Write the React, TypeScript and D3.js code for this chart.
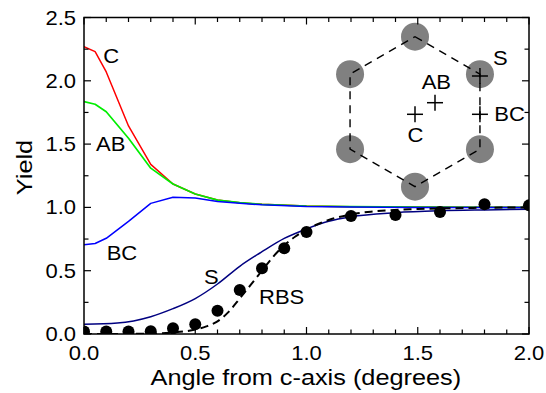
import React from "react";
import * as d3 from "d3";

// ---- data ----
const angleCAB = [0, 0.05, 0.1, 0.2, 0.3, 0.4, 0.5, 0.6, 0.7, 0.8, 1.0, 1.2, 1.5, 2.0];
const yieldC = [2.27, 2.23, 2.07, 1.643, 1.34, 1.185, 1.106, 1.058, 1.037, 1.024, 1.011, 1.006, 1.003, 1.0];
const yieldAB = [1.835, 1.815, 1.756, 1.546, 1.31, 1.185, 1.106, 1.058, 1.037, 1.024, 1.011, 1.006, 1.003, 1.0];
const angleBC = [0, 0.05, 0.1, 0.2, 0.3, 0.4, 0.5, 0.6, 0.7, 0.8, 1.0, 1.2, 1.5, 2.0];
const yieldBC = [0.705, 0.715, 0.756, 0.89, 1.032, 1.08, 1.075, 1.047, 1.032, 1.02, 1.007, 1.003, 1.0, 1.0];
const angleS = [0, 0.15, 0.3, 0.4, 0.5, 0.6, 0.7, 0.8, 0.9, 1.0, 1.1, 1.2, 1.4, 1.6, 1.8, 2.0];
const yieldS = [0.077, 0.087, 0.137, 0.2, 0.28, 0.395, 0.535, 0.65, 0.755, 0.83, 0.89, 0.926, 0.958, 0.973, 0.98, 0.985];
const angleRBS = [0, 0.1, 0.2, 0.3, 0.4, 0.5, 0.6, 0.7, 0.8, 0.9, 1.0, 1.2, 1.4, 1.6, 1.8, 2.0];
const yieldRBS = [0.02, 0.02, 0.02, 0.022, 0.045, 0.077, 0.184, 0.348, 0.52, 0.677, 0.805, 0.932, 0.94, 0.964, 1.024, 1.016];
const angleFit = [0, 0.3, 0.4, 0.5, 0.55, 0.6, 0.65, 0.7, 0.75, 0.8, 0.85, 0.9, 0.95, 1.0, 1.1, 1.2, 1.3, 1.5, 1.75, 2.0];
const yieldFit = [0.0, 0.003, 0.012, 0.035, 0.06, 0.1, 0.175, 0.28, 0.39, 0.5, 0.61, 0.7, 0.77, 0.825, 0.9, 0.945, 0.968, 0.987, 0.996, 1.0];

const xTickLabels = ["0.0", "0.5", "1.0", "1.5", "2.0"];
const yTickLabels = ["0.0", "0.5", "1.0", "1.5", "2.0", "2.5"];

// inset site labels
const insetSites = ["C", "AB", "S", "BC"];

const W = 546, H = 393;
const L = 84, R = 529, T = 17.5, B = 334;
const FONT = "'Liberation Sans', Arial, Helvetica, sans-serif";

export default function App() {
  const x = d3.scaleLinear().domain([0, 2]).range([L, R]);
  const y = d3.scaleLinear().domain([0, 2.5]).range([B, T]);

  const lin = (xs: number[], ys: number[]) =>
    d3.line<number>().x((_, i) => x(xs[i])).y((_, i) => y(ys[i]))(ys) || "";
  const smooth = (xs: number[], ys: number[]) =>
    d3.line<number>().curve(d3.curveMonotoneX).x((_, i) => x(xs[i])).y((_, i) => y(ys[i]))(ys) || "";

  const xMinor = d3.range(0, 21).map((i) => i / 10);
  const yMinor = d3.range(0, 11).map((i) => i * 0.25);

  const txt = (s: string, tx: number, ty: number, anchor: string = "start", size = 20, sx = 1.1) => (
    <text
      key={s + tx + ty}
      transform={`translate(${tx},${ty}) scale(${sx},1)`}
      textAnchor={anchor as any}
      fontSize={size}
      fontFamily={FONT}
      fill="#000"
    >
      {s}
    </text>
  );

  // inset hexagon
  const cx = 415, cy = 111.7, Rh = 75;
  const verts = d3.range(6).map((k) => {
    const a = (-90 + 60 * k) * Math.PI / 180;
    return [cx + Rh * Math.cos(a), cy + Rh * Math.sin(a)];
  });
  const hexPath = "M" + verts.map((v) => v.join(",")).join("L") + "Z";
  const plusPos: Record<string, [number, number]> = {
    C: [cx, cy + 2.6],
    AB: [cx + 20, cy - 9],
    S: [verts[1][0], verts[1][1] + 1.8],
    BC: [verts[1][0], cy + 2.6],
  };
  const labelPos: Record<string, [number, number, string]> = {
    C: [cx + 0.5, 141.5, "middle"],
    AB: [436.3, 89.3, "middle"],
    S: [500.3, 65, "middle"],
    BC: [494.3, 120.7, "start"],
  };

  return (
    <svg width={W} height={H} style={{ position: "absolute", left: 0, top: 0 }}>
      <rect width={W} height={H} fill="#fff" />
      <defs>
        <clipPath id="plot">
          <rect x={L} y={T} width={R - L} height={B - T} />
        </clipPath>
      </defs>

      {/* inset */}
      <g>
        {verts.map((v, i) => (
          <circle key={i} cx={v[0]} cy={v[1]} r={14} fill="#808080" />
        ))}
        <path d={hexPath} fill="none" stroke="#000" strokeWidth={1.4} strokeDasharray="8,6" />
        {insetSites.map((s) => {
          const [px, py] = plusPos[s];
          return (
            <g key={s} stroke="#000" strokeWidth={1.5}>
              <line x1={px - 8} x2={px + 8} y1={py} y2={py} />
              <line x1={px} x2={px} y1={py - 8} y2={py + 8} />
            </g>
          );
        })}
        {insetSites.map((s) => txt(s, labelPos[s][0], labelPos[s][1], labelPos[s][2]))}
      </g>

      <g clipPath="url(#plot)" fill="none" strokeWidth={1.5} strokeLinejoin="round">
        <path d={lin(angleCAB, yieldC)} stroke="#ff0000" />
        <path d={lin(angleCAB, yieldAB)} stroke="#00ee00" strokeWidth={1.7} />
        <path d={lin(angleBC, yieldBC)} stroke="#0000ff" />
        <path d={smooth(angleS, yieldS)} stroke="#000080" />
        <path d={smooth(angleFit, yieldFit)} stroke="#000" strokeWidth={2} strokeDasharray="8,5" />
        {angleRBS.map((a, i) => (
          <circle key={i} cx={x(a)} cy={y(yieldRBS[i])} r={6} fill="#000" stroke="none" />
        ))}
      </g>

      {/* frame & ticks */}
      <rect x={L} y={T} width={R - L} height={B - T} fill="none" stroke="#000" strokeWidth={1.5} />
      <g stroke="#000" strokeWidth={1.2}>
        {xMinor.map((v, i) => {
          const len = i % 5 === 0 ? 7 : 4.5;
          return (
            <g key={"xt" + i}>
              <line x1={x(v)} x2={x(v)} y1={B} y2={B - len} />
              <line x1={x(v)} x2={x(v)} y1={T} y2={T + len} />
            </g>
          );
        })}
        {yMinor.map((v, i) => {
          const len = i % 2 === 0 ? 7 : 4.5;
          return (
            <g key={"yt" + i}>
              <line x1={L} x2={L + len} y1={y(v)} y2={y(v)} />
              <line x1={R} x2={R - len} y1={y(v)} y2={y(v)} />
            </g>
          );
        })}
      </g>
      {xTickLabels.map((s) => txt(s, x(+s), 360, "middle"))}
      {yTickLabels.map((s) => txt(s, 76, y(+s) + 7, "end"))}

      {/* curve labels */}
      {txt("C", 103.3, 62.5)}
      {txt("AB", 96, 150.7)}
      {txt("BC", 106.7, 260)}
      {txt("S", 204, 284)}
      {txt("RBS", 259, 304.3)}

      {/* axis titles */}
      {txt("Angle from c-axis (degrees)", (150 + 461.7) / 2, 384.5, "middle", 22, 1.15)}
      <text
        transform={`translate(32,167.5) rotate(-90) scale(1.15,1)`}
        textAnchor="middle"
        fontSize={22}
        fontFamily={FONT}
        fill="#000"
      >
        Yield
      </text>
    </svg>
  );
}
